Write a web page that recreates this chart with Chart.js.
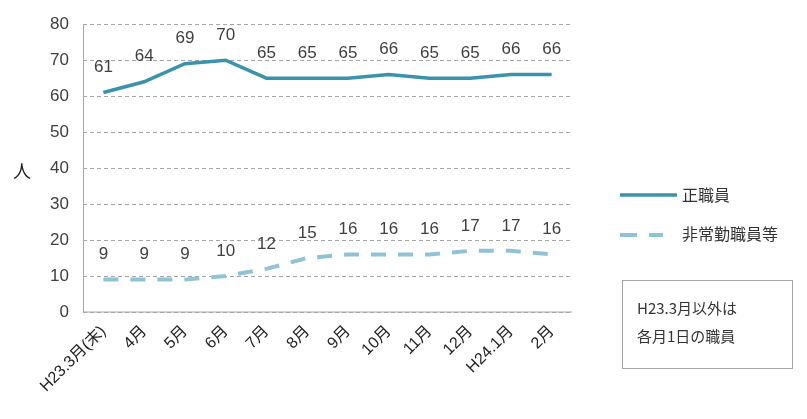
<!DOCTYPE html>
<html>
<head>
<meta charset="utf-8">
<script src="https://cdn.jsdelivr.net/npm/chart.js@4/dist/chart.umd.min.js"></script>
<style>
  html, body { margin: 0; padding: 0; background: #fff; }
  #wrap { width: 807px; height: 419px; position: relative; }
</style>
</head>
<body>
<div id="wrap"><canvas id="grafica" width="807" height="419"></canvas></div>
<script>
// datos
var meses = ['H23.3月(末)', '4月', '5月', '6月', '7月', '8月', '9月', '10月', '11月', '12月', 'H24.1月', '2月'];
var seikiShokuin = [61, 64, 69, 70, 65, 65, 65, 66, 65, 65, 66, 66];
var hijokinShokuin = [9, 9, 9, 10, 12, 15, 16, 16, 16, 17, 17, 16];
var nombresSerie = ['正職員', '非常勤職員等'];
var notaTexto = ['H23.3月以外は', '各月1日の職員'];

var colorSolido = '#3b93ab';
var colorPunteado = '#8fc4d7';
var fuenteNum = "'Liberation Sans', 'Noto Sans CJK JP', sans-serif";
var fuenteJp = "'Noto Sans CJK JP', sans-serif";

// eje y solido (la rejilla va punteada)
var ejeSolido = {
  id: 'ejeSolido',
  beforeDatasetsDraw: function(chart) {
    var a = chart.chartArea, ctx = chart.ctx;
    ctx.save();
    ctx.strokeStyle = '#a6a6a6';
    ctx.lineWidth = 1;
    ctx.beginPath();
    ctx.moveTo(Math.round(a.left) + 0.5, a.top);
    ctx.lineTo(Math.round(a.left) + 0.5, a.bottom);
    ctx.lineTo(a.right, a.bottom);
    ctx.stroke();
    ctx.restore();
  }
};

// etiquetas de valores, leyenda y nota
var extras = {
  id: 'extras',
  afterDatasetsDraw: function(chart) {
    var ctx = chart.ctx;
    ctx.save();
    ctx.fillStyle = '#404040';
    ctx.font = '17px ' + fuenteNum;
    ctx.textAlign = 'center';
    ctx.textBaseline = 'middle';
    chart.data.datasets.forEach(function(ds, i) {
      var meta = chart.getDatasetMeta(i);
      meta.data.forEach(function(pt, j) {
        ctx.fillText(ds.data[j], pt.x, pt.y - 25);
      });
    });

    // titulo del eje y
    ctx.font = '18px ' + fuenteJp;
    ctx.fillStyle = '#222';
    ctx.fillText('人', 22, 171);

    // leyenda
    ctx.lineCap = 'butt';
    ctx.strokeStyle = colorSolido;
    ctx.lineWidth = 3.5;
    ctx.beginPath(); ctx.moveTo(620, 195); ctx.lineTo(677, 195); ctx.stroke();
    ctx.strokeStyle = colorPunteado;
    ctx.lineWidth = 4;
    ctx.setLineDash([17, 12]);
    ctx.beginPath(); ctx.moveTo(620, 235); ctx.lineTo(663, 235); ctx.stroke();
    ctx.setLineDash([]);
    ctx.fillStyle = '#333';
    ctx.font = '16px ' + fuenteJp;
    ctx.textAlign = 'left';
    ctx.fillText(nombresSerie[0], 682, 195);
    ctx.fillText(nombresSerie[1], 682, 234);

    // cuadro de nota
    ctx.strokeStyle = '#a6a6a6';
    ctx.lineWidth = 1;
    ctx.strokeRect(622.5, 280.5, 170, 88);
    ctx.font = '15px ' + fuenteJp;
    ctx.fillText(notaTexto[0], 637, 308);
    ctx.fillText(notaTexto[1], 637, 336);
    ctx.restore();
  }
};

var ctx = document.getElementById('grafica').getContext('2d');
var grafico = new Chart(ctx, {
  type: 'line',
  data: {
    labels: meses,
    datasets: [{
      label: nombresSerie[0],
      data: seikiShokuin,
      borderColor: colorSolido,
      borderWidth: 3.5,
      pointRadius: 0,
      tension: 0,
      fill: false
    }, {
      label: nombresSerie[1],
      data: hijokinShokuin,
      borderColor: colorPunteado,
      borderWidth: 4,
      borderDash: [15, 12],
      pointRadius: 0,
      tension: 0,
      fill: false
    }]
  },
  options: {
    responsive: false,
    animation: false,
    layout: { padding: { top: 24, right: 235, left: 0, bottom: 0 } },
    plugins: { legend: { display: false }, tooltip: { enabled: false } },
    scales: {
      x: {
        offset: true,
        grid: { display: false, drawTicks: false },
        border: { display: false },
        ticks: {
          color: '#222',
          font: { size: 16, family: fuenteNum },
          minRotation: 45,
          maxRotation: 45,
          padding: 10,
          autoSkip: false
        },
        afterFit: function(scale) { scale.height = 107; }
      },
      y: {
        min: 0,
        max: 80,
        ticks: {
          stepSize: 10,
          color: '#404040',
          font: { size: 17, family: fuenteNum },
          padding: 14
        },
        grid: {
          color: '#a6a6a6',
          drawTicks: false
        },
        border: { display: false, dash: [4, 3] },
        afterFit: function(scale) { scale.width = 83; }
      }
    }
  },
  plugins: [ejeSolido, extras]
});
</script>
</body>
</html>
